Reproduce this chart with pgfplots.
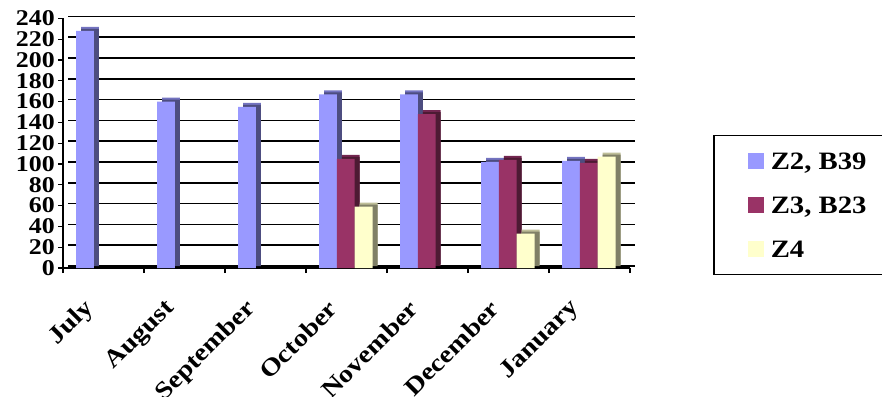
\documentclass[border=0pt]{standalone}
\usepackage{fontspec}
\setmainfont{Liberation Serif}[FakeStretch=1.15]
\usepackage{pgfplots}
\usepackage{pgfplotstable}
\pgfplotsset{compat=1.18}
\definecolor{zA}{HTML}{9999FF}
\definecolor{zAside}{HTML}{4D4D80}
\definecolor{zAtop}{HTML}{7373C0}
\definecolor{zB}{HTML}{993366}
\definecolor{zBside}{HTML}{4D1A33}
\definecolor{zBtop}{HTML}{732650}
\definecolor{zC}{HTML}{FFFFCC}
\definecolor{zCside}{HTML}{808066}
\definecolor{zCtop}{HTML}{BFBF99}
% x: 0 July, 1 August, 2 September, 3 October, 4 November, 5 December, 6 January
\pgfplotstableread{
x v
0 228
1 160
2 155
3 167
4 167
5 102
6 103
}\zTwo
\pgfplotstableread{
x v
3 105
4 148
5 104
6 101
}\zThree
\pgfplotstableread{
x v
3 59
5 33
6 107
}\zFour
\begin{document}
\begin{tikzpicture}
\useasboundingbox (0,0) rectangle (882pt,396pt);
\clip (0,0) rectangle (882pt,396pt);
\begin{axis}[
  at={(63pt,128pt)}, anchor=south west,
  scale only axis, width=567pt, height=249.6pt,
  xmin=-0.5, xmax=6.5, ymin=0, ymax=240,
  axis lines*=left,
  y axis line style={line width=1.5pt},
  x axis line style={line width=2.2pt},
  ytick={0,20,...,240},
  xtick={-0.5,0.5,...,6.5},
  xticklabels={July,August,September,October,November,December,January,{}},
  tick align=outside, major tick length=5pt,
  tick style={black, line width=1.2pt},
  ymajorgrids,
  major grid style={black, line width=1.6pt, xshift=5pt, yshift=2pt},
  /pgf/number format/assume math mode=true,
  yticklabel style={font=\fontsize{22.5}{22.5}\selectfont\bfseries, anchor=east, inner sep=0pt, xshift=-3pt},
  xticklabel style={font=\fontsize{24.5}{24.5}\selectfont\bfseries, xshift=27pt, yshift=-32pt, rotate=45, anchor=east, inner sep=0pt},
  legend style={at={(axis description cs:1.1464,0.5329)}, anchor=north west,
    draw=black, line width=1.5pt, font=\fontsize{25}{25}\selectfont\bfseries,
    inner xsep=0pt, inner ysep=16.5pt, column sep=7pt, row sep=26.7pt,
    nodes={inner sep=0pt, text height=17pt, text depth=0.5pt}},
  legend cell align=left,
  legend image code/.code={\path (-34pt,0pt); \fill[#1, draw=none] (0pt,-8pt) rectangle (16pt,8pt);},
  bar width=17.8pt,
]
% Z2, B39
\addplot[ybar, forget plot, fill=zAtop, draw=none, bar shift=-13.5pt, yshift=4pt] table[x=x,y=v]{\zTwo};
\addplot[ybar, forget plot, fill=zAside, draw=none, bar shift=-13.5pt, yshift=2pt] table[x=x,y=v]{\zTwo};
\addplot[ybar, fill=zA, draw=none, bar shift=-18.5pt] table[x=x,y=v]{\zTwo};
\addlegendentry{\makebox[115pt][l]{Z2, B39}}
% Z3, B23
\addplot[ybar, forget plot, fill=zBtop, draw=none, bar shift=4.3pt, yshift=4pt] table[x=x,y=v]{\zThree};
\addplot[ybar, forget plot, fill=zBside, draw=none, bar shift=4.3pt, yshift=2pt] table[x=x,y=v]{\zThree};
\addplot[ybar, fill=zB, draw=none, bar shift=-0.7pt] table[x=x,y=v]{\zThree};
\addlegendentry{\makebox[115pt][l]{Z3, B23}}
% Z4
\addplot[ybar, forget plot, fill=zCtop, draw=none, bar shift=22.1pt, yshift=4pt] table[x=x,y=v]{\zFour};
\addplot[ybar, forget plot, fill=zCside, draw=none, bar shift=22.1pt, yshift=2pt] table[x=x,y=v]{\zFour};
\addplot[ybar, fill=zC, draw=none, bar shift=17.1pt] table[x=x,y=v]{\zFour};
\addlegendentry{\makebox[115pt][l]{Z4}}
\end{axis}
\end{tikzpicture}
\end{document}
